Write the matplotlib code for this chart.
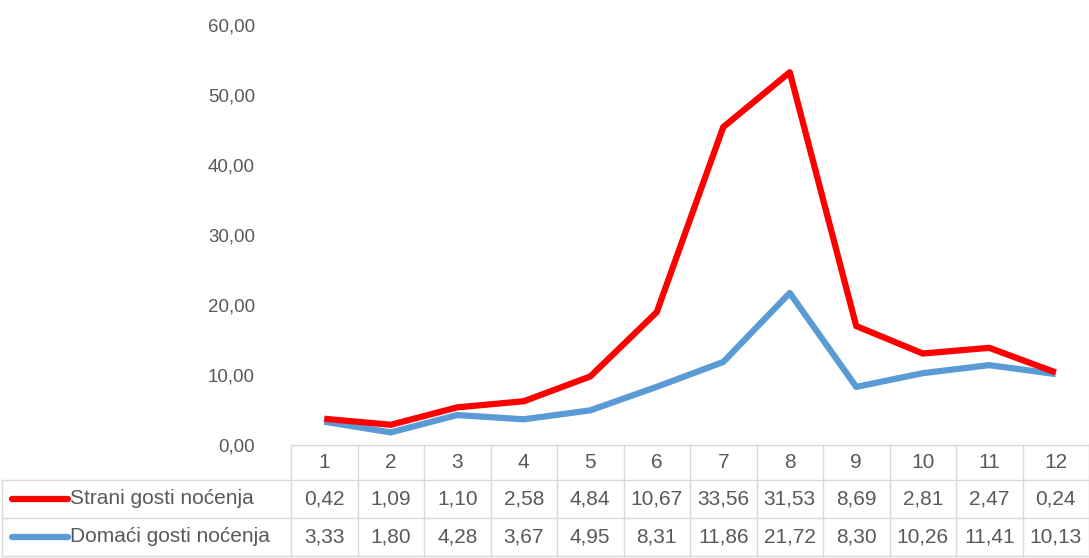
import numpy as np
import matplotlib
matplotlib.use("Agg")
from matplotlib import pyplot as plt
from matplotlib.transforms import blended_transform_factory

months = [1, 2, 3, 4, 5, 6, 7, 8, 9, 10, 11, 12]
strani = [0.42, 1.09, 1.10, 2.58, 4.84, 10.67, 33.56, 31.53, 8.69, 2.81, 2.47, 0.24]
domaci = [3.33, 1.80, 4.28, 3.67, 4.95, 8.31, 11.86, 21.72, 8.30, 10.26, 11.41, 10.13]
labels = ["Strani gosti noćenja", "Domaći gosti noćenja"]
colors = ["#FF0000", "#5B9BD5"]
y_ticks = [0, 10, 20, 30, 40, 50, 60]

plt.rcParams['font.family'] = ['Liberation Sans Narrow', 'Liberation Sans', 'DejaVu Sans']
text_color = "#595959"
grid_color = "#D9D9D9"
fs_tick = 13.5
fs_table = 15

W, H = 1089, 558
fig = plt.figure(figsize=(W / 100, H / 100), dpi=100)

left_px, right_px = 291, 1089
top_px, bottom_px = 25, 445
ax = fig.add_axes([left_px / W, 1 - bottom_px / H,
                   (right_px - left_px) / W, (bottom_px - top_px) / H])

# stacked lines: red is strani on top of domaci
stacked = np.array(domaci) + np.array(strani)
ax.plot(months, domaci, color=colors[1], linewidth=4.5, solid_capstyle='butt', zorder=2)
ax.plot(months, stacked, color=colors[0], linewidth=4.5, solid_capstyle='butt', zorder=3)

ax.set_xlim(0.5, 12.5)
ax.set_ylim(0, 60)
ax.set_yticks(y_ticks)
ax.set_yticklabels([f"{v:.2f}".replace(".", ",") for v in y_ticks])
ax.tick_params(axis='y', length=0, pad=26, labelsize=fs_tick, labelcolor=text_color)
ax.set_xticks([])
for s in ax.spines.values():
    s.set_visible(False)

# data table under the chart
tr = blended_transform_factory(ax.transData, fig.transFigure)
row_y = [445, 480, 518, 556]


def fy(px):
    return 1 - px / H


# horizontal rules
ax.plot([0.5, 12.5], [fy(row_y[0])] * 2, color=grid_color, lw=1, transform=tr, clip_on=False)
for y in row_y[1:]:
    fig.add_artist(plt.Line2D([2 / W, 1], [fy(y)] * 2, color=grid_color, lw=1))
# vertical rules
for i in range(13):
    ax.plot([0.5 + i] * 2, [fy(row_y[0]), fy(row_y[3])], color=grid_color, lw=1,
            transform=tr, clip_on=False)
fig.add_artist(plt.Line2D([2 / W] * 2, [fy(row_y[1]), fy(row_y[3])], color=grid_color, lw=1))

for m in months:
    ax.text(m, fy((row_y[0] + row_y[1]) / 2), str(m), transform=tr, ha='center', va='center',
            fontsize=fs_table, color=text_color)

for r, (vals, lab, col) in enumerate(zip([strani, domaci], labels, colors)):
    yc = fy((row_y[r + 1] + row_y[r + 2]) / 2)
    for m, v in zip(months, vals):
        ax.text(m, yc, f"{v:.2f}".replace(".", ","), transform=tr, ha='center', va='center',
                fontsize=fs_table, color=text_color)
    fig.add_artist(plt.Line2D([12 / W, 68 / W], [yc, yc], color=col, lw=4.5,
                              solid_capstyle='round'))
    fig.text(70 / W, yc, lab, ha='left', va='center', fontsize=fs_table, color=text_color)

plt.savefig("out.png", dpi=100)
